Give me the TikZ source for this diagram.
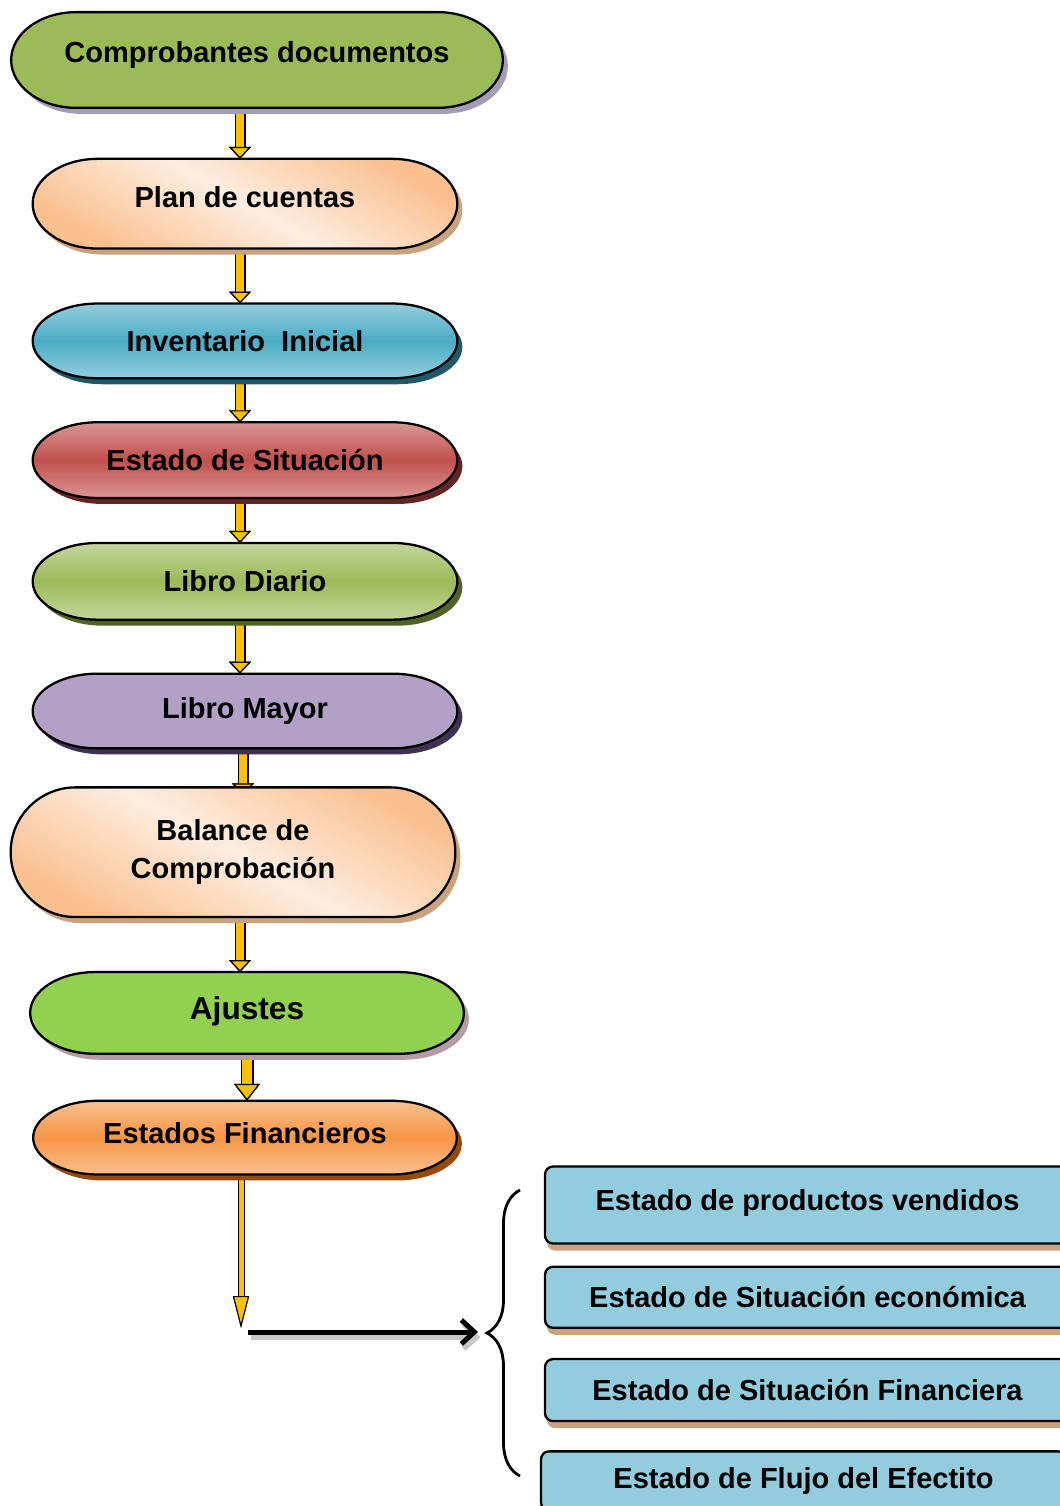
\documentclass[tikz,border=0pt]{standalone}
\usepackage{fontspec}
\setmainfont{Liberation Sans}
\usepackage{xcolor}
\usepackage{tikz}
\usetikzlibrary{positioning, shadows, calc, arrows.meta, backgrounds, decorations.pathreplacing}

\definecolor{compgreen}{HTML}{9BBB59}
\definecolor{compshadow}{HTML}{A39CB3}
\definecolor{peachdark}{HTML}{FAC090}
\definecolor{peachlight}{HTML}{FDEDE0}
\definecolor{peachshadow}{HTML}{C9A27F}
\definecolor{invlight}{HTML}{93CDDD}
\definecolor{invdark}{HTML}{4BACC6}
\definecolor{invshadow}{HTML}{215968}
\definecolor{sitlight}{HTML}{D99694}
\definecolor{sitdark}{HTML}{C0504D}
\definecolor{sitshadow}{HTML}{632523}
\definecolor{diariolight}{HTML}{C3D69B}
\definecolor{diarioshadow}{HTML}{4F6228}
\definecolor{mayorfill}{HTML}{B2A1C7}
\definecolor{mayorshadow}{HTML}{3F3151}
\definecolor{ajustesfill}{HTML}{92D050}
\definecolor{ajustesshadow}{HTML}{B39DA2}
\definecolor{findark}{HTML}{F79646}
\definecolor{finshadow}{HTML}{984807}
\definecolor{statefill}{HTML}{93CDDD}
\definecolor{arrowyellow}{HTML}{FFC000}

\newcommand{\stagefont}{\fontsize{16.5}{21.5}\selectfont\bfseries}

\tikzstyle{stage} = [rectangle, minimum width=8.48cm, inner sep=0pt, font=\stagefont]
\tikzstyle{pillbase} = [draw=black, line width=1.3pt]
\tikzstyle{statebox} = [rectangle, rounded corners=0.16cm, draw=black, line width=1.3pt, fill=statefill, minimum width=10.5cm, inner sep=0pt, font=\stagefont, drop shadow={shadow xshift=0.04cm, shadow yshift=-0.14cm, fill=peachshadow, opacity=1}]
\tikzstyle{flow} = [draw=arrowyellow, line width=0.17cm, preaction={draw=black, line width=0.22cm}, -{Triangle[color=black, fill=arrowyellow, length=0.24cm, width=0.44cm, line width=0.7pt]}]
\tikzstyle{bigflow} = [draw=arrowyellow, line width=0.21cm, preaction={draw=black, line width=0.26cm}, -{Triangle[color=black, fill=arrowyellow, length=0.34cm, width=0.52cm, line width=0.7pt]}]
\tikzstyle{thinflow} = [draw=arrowyellow, line width=0.1cm, preaction={draw=black, line width=0.14cm}, -{Triangle[color=black, fill=arrowyellow, length=0.64cm, width=0.32cm, line width=0.6pt]}]
\tikzstyle{split} = [line width=0.1cm, -{Straight Barb[length=0.26cm, width=0.48cm]}]
\tikzset{pillshadow/.style={drop shadow={shadow xshift=0.1cm, shadow yshift=-0.12cm, fill=#1, opacity=1}}}

% pill with elliptical ends round a stage node
\newcommand{\pill}[2]{%
  \path[pillbase, #2] let \p1=(#1.north), \p2=(#1.south), \n1={0.5*(\y1-\y2)} in
    ([xshift=1.3cm]#1.north west) -- ([xshift=-1.3cm]#1.north east)
    arc[start angle=90, end angle=-90, x radius=1.3cm, y radius=\n1]
    -- ([xshift=1.3cm]#1.south west)
    arc[start angle=270, end angle=90, x radius=1.3cm, y radius=\n1] -- cycle;}

\begin{document}
\begin{tikzpicture}
    \useasboundingbox (0,0) rectangle (21.18,-30.12);

    % Stages
    \node[stage, minimum width=9.82cm, minimum height=1.9cm, text depth=0.3cm] (comp) at (5.14,-1.2) {Comprobantes documentos};
    \node[stage, minimum height=1.78cm, text depth=0.26cm, below=1.02cm of comp, xshift=-0.24cm] (plan) {Plan de cuentas};
    \node[stage, minimum height=1.48cm, below=1.1cm of plan] (inv) {Inventario\ \ Inicial};
    \node[stage, minimum height=1.5cm, below=0.88cm of inv] (sit) {Estado de Situación};
    \node[stage, minimum height=1.52cm, below=0.9cm of sit] (diario) {Libro Diario};
    \node[stage, minimum height=1.48cm, below=1.08cm of diario] (mayor) {Libro Mayor};
    \node[stage, minimum width=8.88cm, minimum height=2.58cm, align=center, below=0.78cm of mayor, xshift=-0.24cm] (balance) {Balance de\\Comprobación};
    \node[stage, minimum width=8.66cm, minimum height=1.62cm, text depth=0.2cm, below=1.1cm of balance, xshift=0.28cm, font=\fontsize{18}{22}\selectfont\bfseries] (ajustes) {Ajustes};
    \node[stage, minimum width=8.46cm, minimum height=1.46cm, text depth=0.2cm, below=0.94cm of ajustes, xshift=-0.04cm] (finan) {Estados Financieros};

    % Statements
    \node[statebox, minimum height=1.54cm, text depth=0.2cm] (prod) at (16.15,-24.1) {Estado de productos vendidos};
    \node[statebox, minimum height=1.22cm, below=0.42cm of prod] (econ) {Estado de Situación económica};
    \node[statebox, minimum height=1.24cm, below=0.58cm of econ] (finsit) {Estado de Situación Financiera};
    \node[statebox, minimum height=1.18cm, below=0.56cm of finsit, xshift=-0.08cm] (flujo) {Estado de Flujo del Efectito};

    \coordinate (axis) at (4.8,0);
    \coordinate (axisb) at (4.86,0);
    \coordinate (drop) at (4.82,-26.56);
    \coordinate (split) at (4.96,-26.64);
    \coordinate (brtip) at (9.56,-26.64);

    \begin{pgfonlayer}{background}
        % Flow arrows
        \draw[flow] (comp.south -| axis) -- (plan.north -| axis);
        \draw[flow] (plan.south -| axis) -- (inv.north -| axis);
        \draw[flow] (inv.south -| axis) -- (sit.north -| axis);
        \draw[flow] (sit.south -| axis) -- (diario.north -| axis);
        \draw[flow] (diario.south -| axis) -- (mayor.north -| axis);
        \draw[flow] (mayor.south -| axisb) -- ([yshift=-0.16cm]balance.north -| axisb);
        \draw[flow] (balance.south -| axis) -- (ajustes.north -| axis);
        \draw[bigflow] (ajustes.south) -- (ajustes.south |- finan.north);
        \draw[thinflow] (finan.south -| drop) -- (drop);

        % Pills
        \pill{comp}{fill=compgreen, pillshadow=compshadow}
        \pill{plan}{top color=peachdark, bottom color=peachdark, middle color=peachlight, shading angle=-30, pillshadow=peachshadow}
        \pill{inv}{top color=invlight, bottom color=invlight, middle color=invdark, pillshadow=invshadow}
        \pill{sit}{top color=sitlight, bottom color=sitlight, middle color=sitdark, pillshadow=sitshadow}
        \pill{diario}{top color=diariolight, bottom color=diariolight, middle color=compgreen, pillshadow=diarioshadow}
        \pill{mayor}{fill=mayorfill, pillshadow=mayorshadow}
        \pill{balance}{top color=peachdark, bottom color=peachdark, middle color=peachlight, shading angle=-30, pillshadow=peachshadow}
        \pill{ajustes}{fill=ajustesfill, pillshadow=ajustesshadow}
        \pill{finan}{top color=peachdark, bottom color=peachdark, middle color=findark, pillshadow=finshadow}

        % shadow of the split arrow
        \draw[split, black!22] ([shift={(0.05cm,-0.1cm)}]split) -- ([shift={(0.05cm,-0.1cm)}]brtip);
    \end{pgfonlayer}

    % Split to the statements
    \draw[split] (split) -- (brtip);
    \draw[decorate, decoration={brace, amplitude=0.66cm}, line width=1.6pt] (10.4,-29.52) -- (10.4,-23.8);
\end{tikzpicture}
\end{document}
